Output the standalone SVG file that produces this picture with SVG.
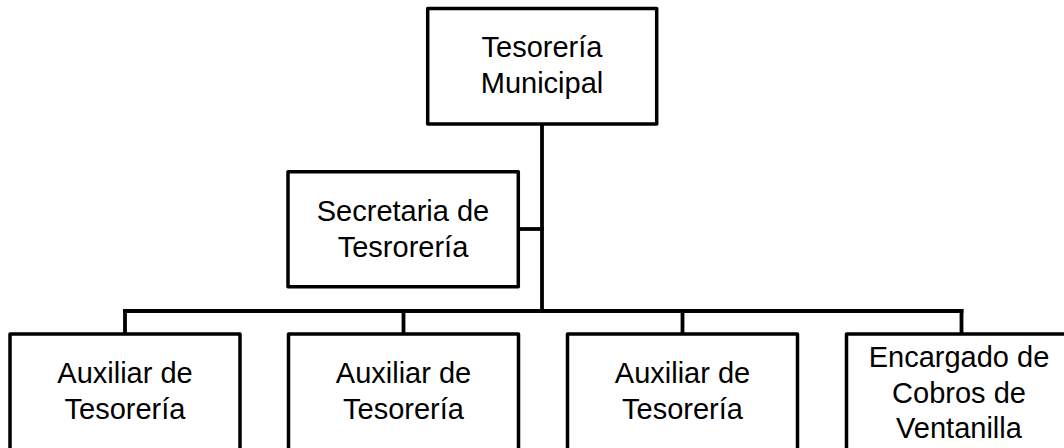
<svg xmlns="http://www.w3.org/2000/svg" width="1064" height="448" viewBox="0 0 1064 448">
<style>
.box{fill:#fff;stroke:#000;stroke-width:3.5;stroke-linejoin:round}
.ln{fill:none;stroke:#000;stroke-width:3.8;stroke-linecap:square}
text{font-family:"Liberation Sans",Arial,sans-serif;font-size:29px;fill:#000;text-anchor:middle}
</style>
<rect width="1064" height="448" fill="#fff"/>
<g id="connectors">
<path class="ln" d="M542 125 V311"/>
<path class="ln" d="M520 229 H542"/>
<path class="ln" d="M125 311 H961.5"/>
<path class="ln" d="M125 311 V332"/>
<path class="ln" d="M403.5 311 V332"/>
<path class="ln" d="M682.5 311 V332"/>
<path class="ln" d="M961.5 311 V332"/>
</g>
<g id="tesoreria-municipal">
<rect class="box" x="427.7" y="8.5" width="229" height="115.5"/>
<text x="542" y="57">Tesorería</text>
<text x="542" y="93">Municipal</text>
</g>
<g id="secretaria">
<rect class="box" x="288" y="171.7" width="230.3" height="115"/>
<text x="403" y="221">Secretaria de</text>
<text x="403" y="256.5">Tesrorería</text>
</g>
<g id="auxiliar-1">
<rect class="box" x="10" y="334" width="230" height="140"/>
<text x="125" y="383">Auxiliar de</text>
<text x="125" y="419">Tesorería</text>
</g>
<g id="auxiliar-2">
<rect class="box" x="288.5" y="334" width="230" height="140"/>
<text x="403.5" y="383">Auxiliar de</text>
<text x="403.5" y="419">Tesorería</text>
</g>
<g id="auxiliar-3">
<rect class="box" x="567.5" y="334" width="230" height="140"/>
<text x="682.5" y="383">Auxiliar de</text>
<text x="682.5" y="419">Tesorería</text>
</g>
<g id="encargado-cobros">
<rect class="box" x="846.5" y="334" width="230" height="140"/>
<text x="959" y="367">Encargado de</text>
<text x="959" y="403">Cobros de</text>
<text x="959" y="438">Ventanilla</text>
</g>
</svg>
